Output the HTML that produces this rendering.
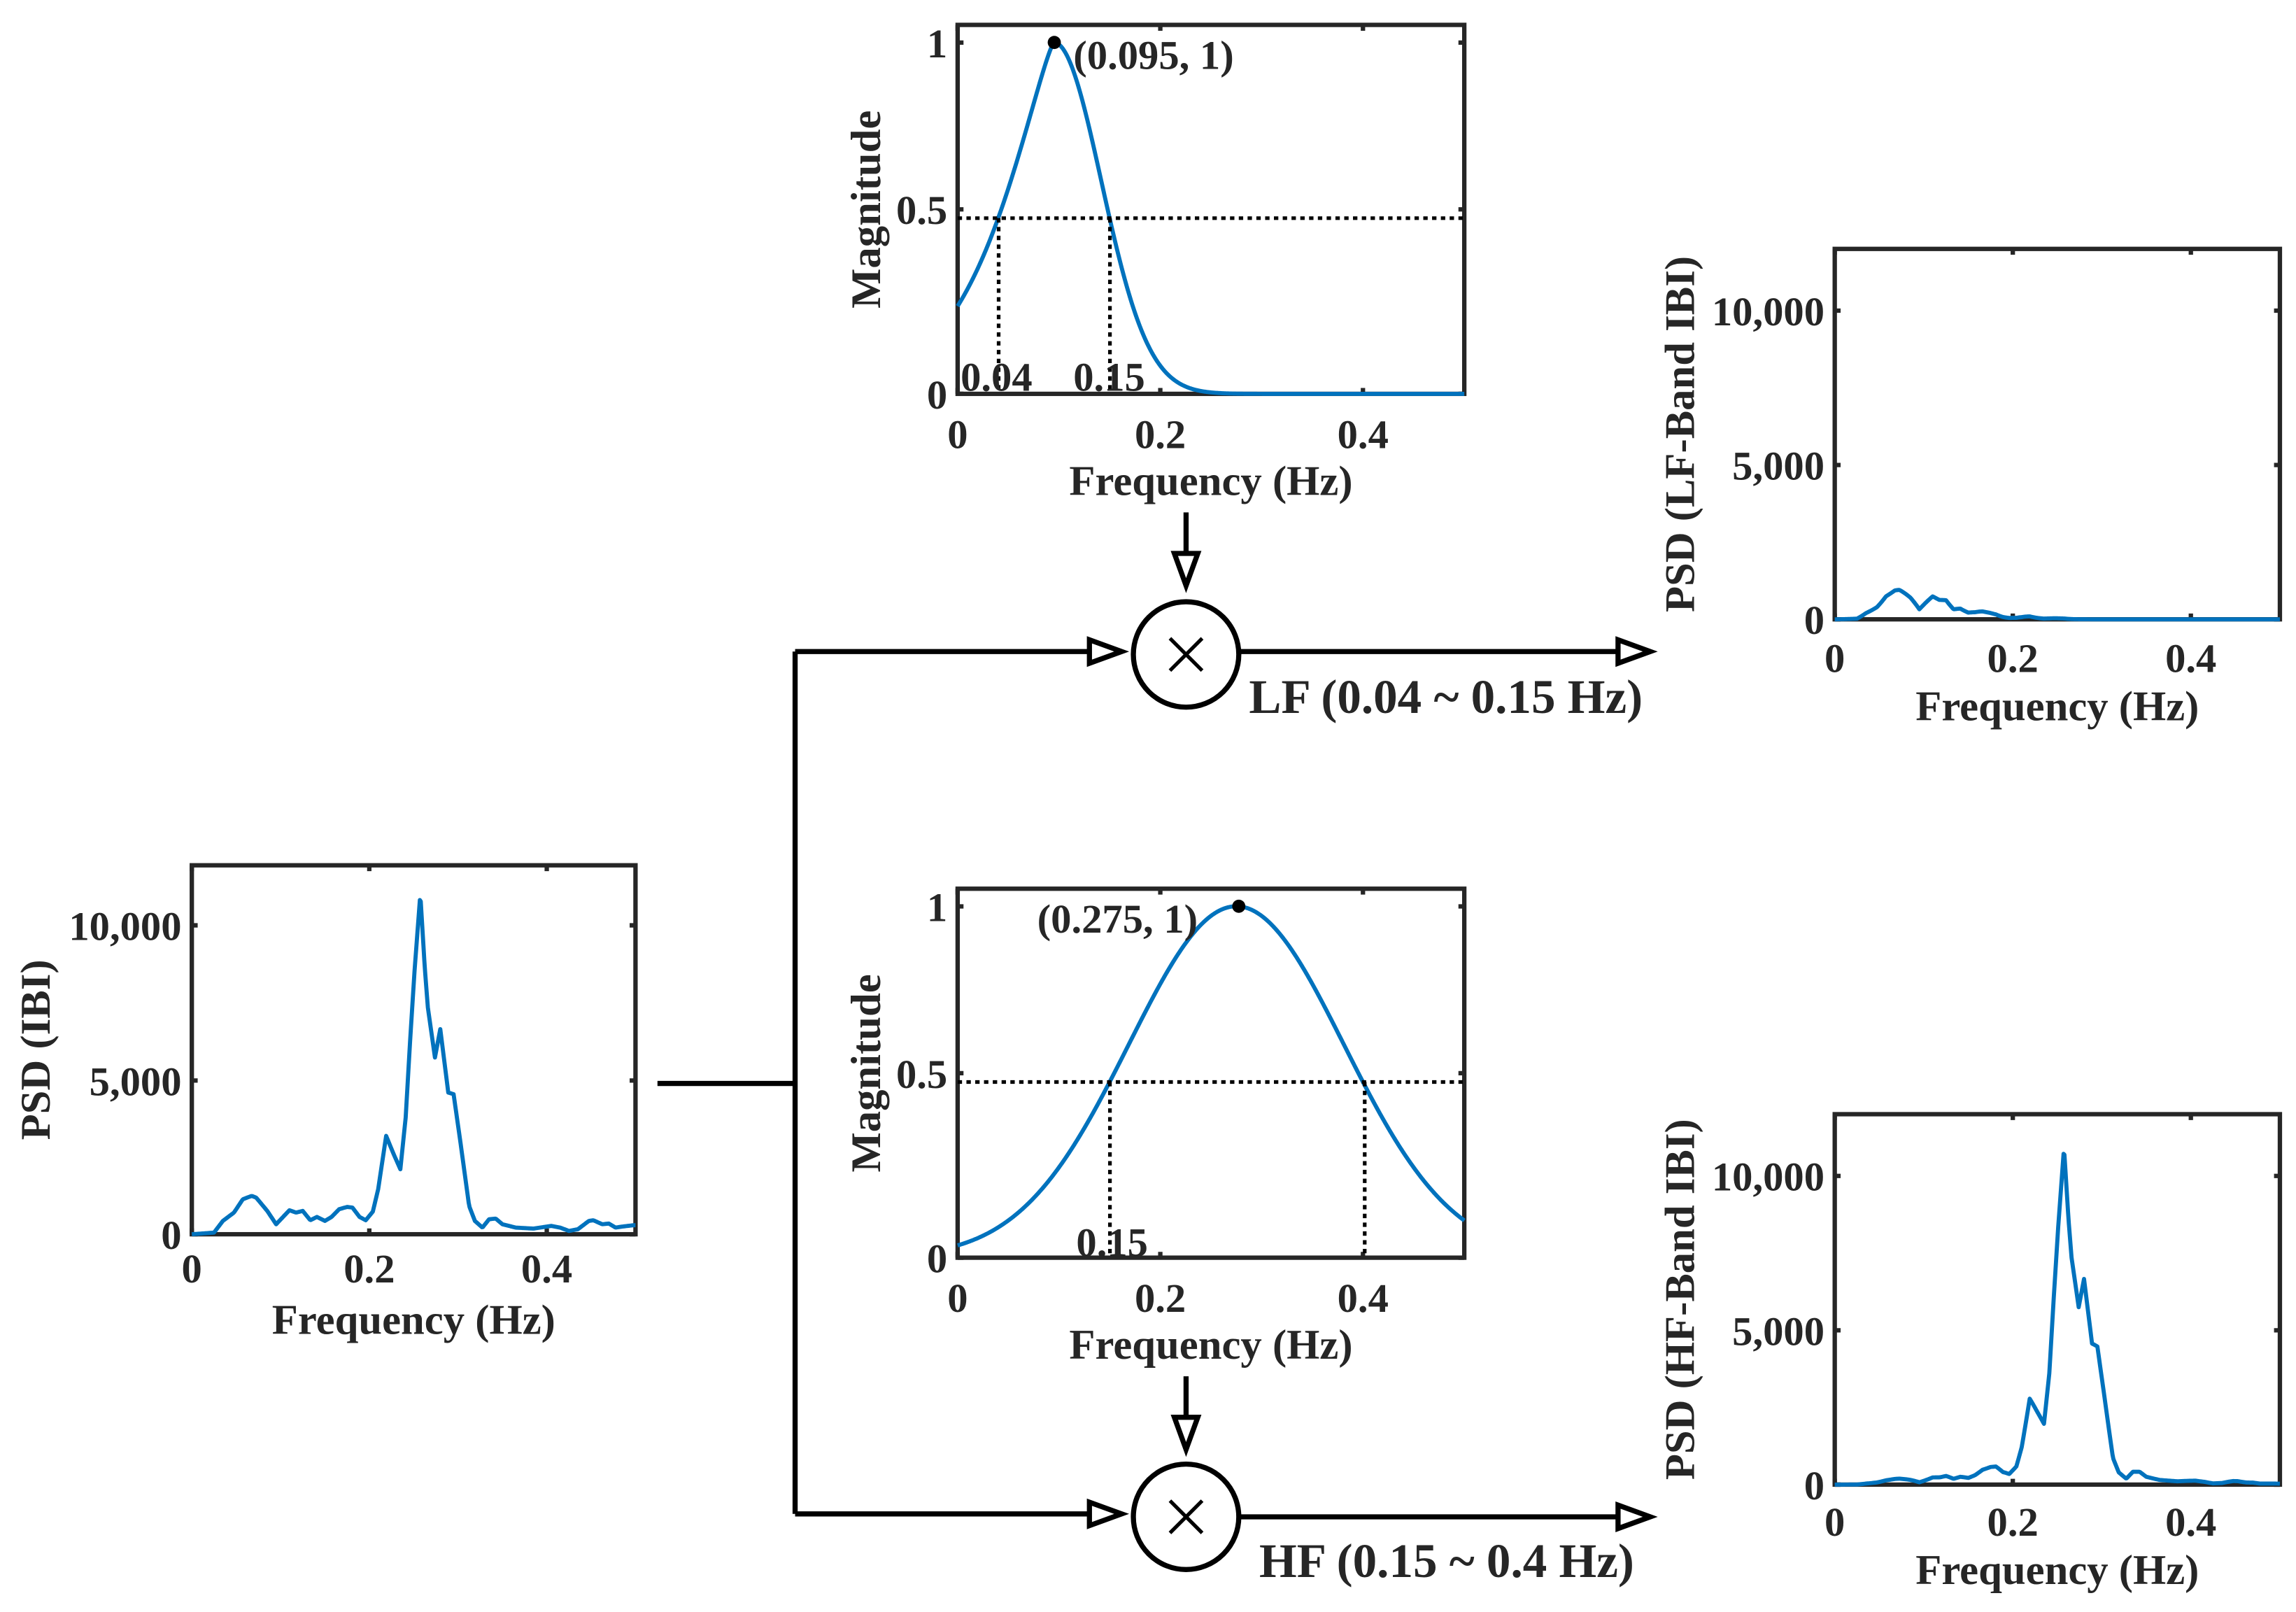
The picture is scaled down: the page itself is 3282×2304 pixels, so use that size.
<!DOCTYPE html>
<html><head><meta charset="utf-8"><style>
html,body{margin:0;padding:0;background:#fff;}
svg{display:block;}
text{font-family:"Liberation Serif",serif;font-weight:bold;fill:#262626;}
</style></head><body>
<svg id="s" width="3282" height="2304" viewBox="0 0 1568 1101" preserveAspectRatio="none" xmlns="http://www.w3.org/2000/svg">
<g id="plots"></g>
<g stroke="#000" stroke-width="3.5" fill="none">
<path d="M449 740 H543 M543 445 V1034 M543 445 H756 M543 1034 H756"/>
<path d="M847 445 H1112 M847 1036 H1112"/>
<path d="M810 350 V392 M810 940 V982"/>
<circle cx="810" cy="447" r="36"/>
<circle cx="810" cy="1036" r="36"/>
<path d="M744 437 L766 445 L744 453 Z M1105 437 L1127 445 L1105 453 Z M744 1026 L766 1034 L744 1042 Z M1105 1028 L1127 1036 L1105 1044 Z" fill="#fff"/>
<path d="M802 378 L810 400 L818 378 Z M802 968 L810 990 L818 968 Z" fill="#fff"/>
</g>
<g stroke="#000" stroke-width="2.5">
<path d="M799 436 L821 458 M821 436 L799 458 M799 1025 L821 1047 M821 1025 L799 1047"/>
</g>
<text x="853" y="487" font-size="33" fill="#000">LF (0.04 ~ 0.15 Hz)</text>
<text x="860" y="1077" font-size="33" fill="#000">HF (0.15 ~ 0.4 Hz)</text>
</svg>
<script>
var NS="http://www.w3.org/2000/svg",G=document.getElementById("plots");
function el(t,a,txt){var e=document.createElementNS(NS,t);for(var k in a)e.setAttribute(k,a[k]);if(txt!=null)e.textContent=txt;G.appendChild(e);return e;}
var Z=[[430,1180],[480,1175],[500,1140],[525,1115],[545,1075],[565,1065],[575,1070],[600,1110],[620,1150],[650,1108],[665,1115],[680,1110],[697,1138],[712,1128],[730,1140],[745,1128],[762,1105],[780,1098],[792,1100],[808,1128],[822,1138],[838,1112],[850,1045],[868,885],[885,940],[900,985],[912,830],[922,600],[932,390],[945,160],[955,380],[962,500],[978,650],[990,565],[1008,755],[1020,760],[1035,900],[1055,1095],[1068,1140],[1085,1160],[1100,1135],[1115,1133],[1130,1150],[1160,1160],[1200,1163],[1240,1155],[1260,1160],[1280,1170],[1300,1165],[1325,1140],[1335,1138],[1355,1150],[1370,1148],[1385,1160],[1400,1157],[1425,1153]];
var P=Z.map(function(p){return [(p[0]-430)/2000,(1180-p[1])/922*10000];});
function psd(f){for(var i=0;i<P.length-1;i++){if(f<=P[i+1][0]){var t=(f-P[i][0])/(P[i+1][0]-P[i][0]);return P[i][1]+t*(P[i+1][1]-P[i][1]);}}return P[P.length-1][1];}
function lf(f){var u=Math.abs(f-0.095)/0.055;var p=f<0.095?1.27:2;return Math.pow(2,-Math.pow(u,p));}
function hf(f){var u=Math.abs(f-0.275)/0.125;return Math.pow(2,-u*u);}
function axes(x0,y0,x1,y1,xt,yt,ylab,xlabY,xtY,ylabX){
  var w=x1-x0,h=y1-y0;
  el("rect",{x:x0,y:y0,width:w,height:h,fill:"none",stroke:"#262626","stroke-width":3});
  xt.forEach(function(v){var x=x0+v[0]*w;el("path",{d:"M"+x+" "+y1+"v-4M"+x+" "+y0+"v4",stroke:"#262626","stroke-width":3});
    el("text",{x:x,y:xtY,"font-size":28,"text-anchor":"middle"},v[1]);});
  yt.forEach(function(v){var y=y1-v[0]*h;el("path",{d:"M"+x0+" "+y+"h4M"+x1+" "+y+"h-4",stroke:"#262626","stroke-width":3});
    el("text",{x:x0-7,y:y+10,"font-size":28,"text-anchor":"end"},v[1]);});
  el("text",{x:(x0+x1)/2,y:xlabY,"font-size":29,"text-anchor":"middle"},"Frequency (Hz)");
  el("text",{x:ylabX,y:(y0+y1)/2,"font-size":29,"text-anchor":"middle",transform:"rotate(-90 "+ylabX+" "+(y0+y1)/2+")"},ylab);
}
function curve(x0,y0,x1,y1,ymax,fn){var d="";for(var i=0;i<=500;i++){var f=i/1000;var v=fn(f);var x=x0+f/0.5*(x1-x0),y=y1-v/ymax*(y1-y0);if(y<y0)y=y0;d+=(i?"L":"M")+x.toFixed(2)+" "+y.toFixed(2);}
 el("path",{d:d,fill:"none",stroke:"#0072BD","stroke-width":2.8,"stroke-linejoin":"round"});}
var XT=[[0,"0"],[0.4,"0.2"],[0.8,"0.4"]];
var psdT=[[0,"0"],[5000/12000,"5,000"],[10000/12000,"10,000"]];
axes(131,591,434,843,XT,[[0,"0"],[0.4167,"5,000"],[0.8373,"10,000"]],"PSD (IBI)",911,876,34);
curve(131,591,434,843,12000,psd);
axes(1253,170,1557,423,XT,psdT,"PSD (LF-Band IBI)",492,459,1157);
curve(1253,170,1557,423,12000,function(f){return psd(f)*lf(f);});
axes(1253,761,1557,1014,XT,psdT,"PSD (HF-Band IBI)",1082,1049,1157);
curve(1253,761,1557,1014,12000,function(f){return psd(f)*hf(f);});
axes(654,17,1000,269,XT,[[0,"0"],[0.5,"0.5"],[0.952,"1"]],"Magnitude",338,306,601);
curve(654,17,1000,269,1.05,lf);
var dot={stroke:"#000","stroke-width":2.5,"stroke-dasharray":"3 3",fill:"none"};
el("path",Object.assign({d:"M654 149H1000M682 149V269M758 149V269"},dot));
el("circle",{cx:720,cy:29,r:4.5,fill:"#000"});
el("text",{x:733,y:47,"font-size":28,fill:"#000"},"(0.095, 1)");
el("text",{x:656,y:267,"font-size":28,fill:"#000"},"0.04");
el("text",{x:733,y:267,"font-size":28,fill:"#000"},"0.15");
axes(654,607,1000,859,XT,[[0,"0"],[0.5,"0.5"],[0.952,"1"]],"Magnitude",928,896,601);
curve(654,607,1000,859,1.05,hf);
el("path",Object.assign({d:"M654 739H1000M758 739V859M932 739V859"},dot));
el("circle",{cx:846,cy:619,r:4.5,fill:"#000"});
el("text",{x:818,y:637,"font-size":28,fill:"#000","text-anchor":"end"},"(0.275, 1)");
el("text",{x:735,y:858,"font-size":28,fill:"#000"},"0.15");
</script>
</body></html>
